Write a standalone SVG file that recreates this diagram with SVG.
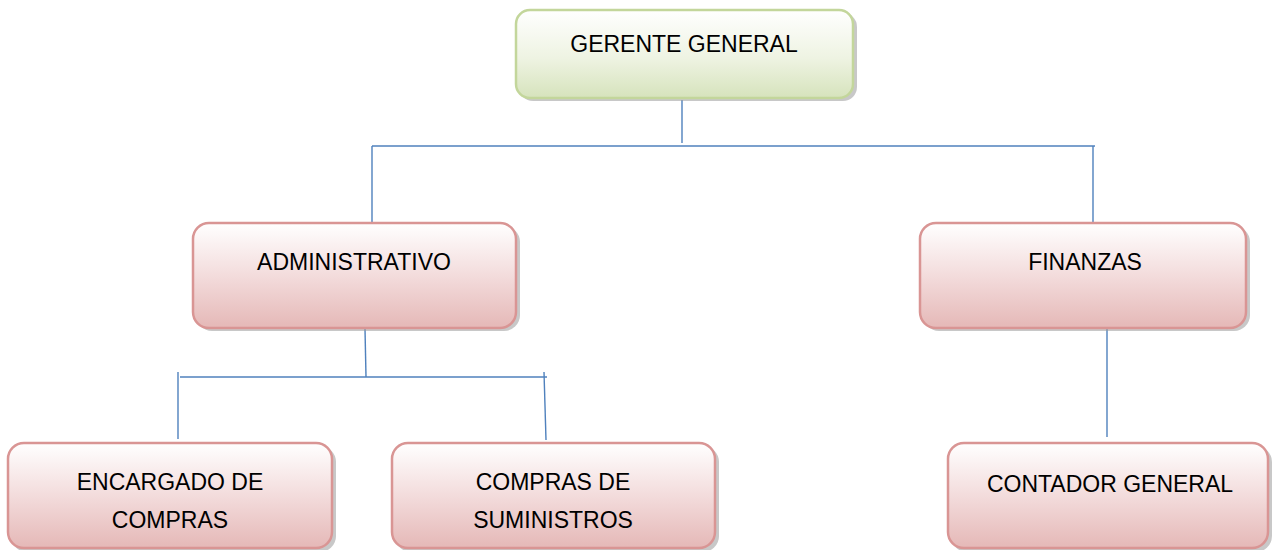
<svg xmlns="http://www.w3.org/2000/svg" width="1275" height="550" viewBox="0 0 1275 550">
<defs>
<linearGradient id="gGreen" x1="0" y1="0" x2="0" y2="1">
<stop offset="0" stop-color="#ffffff"/>
<stop offset="0.55" stop-color="#eef3e2"/>
<stop offset="1" stop-color="#d6e3bc"/>
</linearGradient>
<linearGradient id="gPink" x1="0" y1="0" x2="0" y2="1">
<stop offset="0" stop-color="#ffffff"/>
<stop offset="0.5" stop-color="#f3dcdc"/>
<stop offset="1" stop-color="#e5b8b7"/>
</linearGradient>
</defs>
<style>
.shadow{fill:#9a9a9a;opacity:0.55}
.green{fill:url(#gGreen);stroke:#c3d69b;stroke-width:2.5}
.pink{fill:url(#gPink);stroke:#d99594;stroke-width:2.5}
.lbl{font-family:"Liberation Sans",Arial,sans-serif;font-size:23px;fill:#000;text-anchor:middle}
.conn{stroke:#4f81bd;stroke-width:1.4;fill:none}
</style>
<rect width="1275" height="550" fill="#ffffff"/>
<g id="connectors">
<line class="conn" x1="682" y1="100" x2="682" y2="143"/>
<line class="conn" x1="372" y1="146" x2="1095" y2="146"/>
<line class="conn" x1="372" y1="146" x2="372" y2="222"/>
<line class="conn" x1="1093" y1="146" x2="1093" y2="222"/>
<line class="conn" x1="365" y1="329" x2="366" y2="377"/>
<line class="conn" x1="180" y1="377" x2="547" y2="377"/>
<line class="conn" x1="178" y1="372" x2="178" y2="439"/>
<line class="conn" x1="544" y1="372" x2="546" y2="440"/>
<line class="conn" x1="1107" y1="329" x2="1107" y2="437"/>
</g>
<g id="gerente">
<rect class="shadow" x="519" y="13" width="338" height="88" rx="14"/>
<rect class="green" x="516" y="10" width="337" height="88" rx="14"/>
<text class="lbl" x="684" y="52">GERENTE GENERAL</text>
</g>
<g id="administrativo">
<rect class="shadow" x="196" y="226" width="324" height="105" rx="16"/>
<rect class="pink" x="193" y="223" width="323" height="105" rx="16"/>
<text class="lbl" x="354" y="270">ADMINISTRATIVO</text>
</g>
<g id="finanzas">
<rect class="shadow" x="923" y="226" width="327" height="105" rx="16"/>
<rect class="pink" x="920" y="223" width="326" height="105" rx="16"/>
<text class="lbl" x="1085" y="270">FINANZAS</text>
</g>
<g id="encargado">
<rect class="shadow" x="11" y="446" width="325" height="106" rx="16"/>
<rect class="pink" x="8" y="443" width="324" height="105" rx="16"/>
<text class="lbl" x="170" y="490">ENCARGADO DE</text>
<text class="lbl" x="170" y="528">COMPRAS</text>
</g>
<g id="compras">
<rect class="shadow" x="395" y="446" width="324" height="106" rx="16"/>
<rect class="pink" x="392" y="443" width="323" height="105" rx="16"/>
<text class="lbl" x="553" y="490">COMPRAS DE</text>
<text class="lbl" x="553" y="528">SUMINISTROS</text>
</g>
<g id="contador">
<rect class="shadow" x="951" y="446" width="321" height="106" rx="16"/>
<rect class="pink" x="948" y="443" width="320" height="105" rx="16"/>
<text class="lbl" x="1110" y="492">CONTADOR GENERAL</text>
</g>
</svg>
